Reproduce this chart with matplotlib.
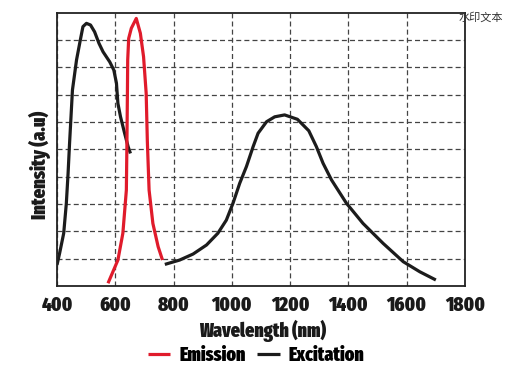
import matplotlib
matplotlib.use("Agg")
import matplotlib.pyplot as plt
from matplotlib import font_manager

# Data (wavelength nm, intensity a.u. on a 0-10 grid scale)
exc1_x = [400, 409, 423, 432, 438, 443, 453, 467, 480, 489, 501, 515, 529, 544, 558, 581, 595, 604, 609, 618, 632, 644, 652]
exc1_y = [0.77, 1.2, 1.93, 3.02, 4.12, 5.2, 7.17, 8.27, 9.0, 9.49, 9.61, 9.55, 9.3, 8.88, 8.57, 8.2, 7.9, 7.42, 6.68, 6.19, 5.59, 5.1, 4.85]

em_x = [575, 609, 626, 638, 640, 641.6, 642.6, 646, 655, 672, 686, 697, 706, 710, 716, 729, 747, 762]
em_y = [0.1, 0.95, 1.93, 3.51, 5.3, 7.05, 8.27, 9.06, 9.43, 9.79, 9.25, 8.39, 7.05, 5.3, 3.51, 2.29, 1.44, 0.95]

exc2_x = [770, 821, 867, 913, 952, 981, 1004, 1027, 1050, 1073, 1090, 1119, 1147, 1181, 1225, 1264, 1290, 1313, 1342, 1393, 1450, 1519, 1588, 1645, 1700]
exc2_y = [0.79, 0.95, 1.17, 1.5, 1.93, 2.41, 3.03, 3.76, 4.37, 5.1, 5.59, 6.01, 6.19, 6.26, 6.1, 5.68, 5.1, 4.49, 3.88, 3.03, 2.29, 1.56, 0.89, 0.52, 0.22]

xticks = [400, 600, 800, 1000, 1200, 1400, 1600, 1800]
yticks = [1, 2, 3, 4, 5, 6, 7, 8, 9]

names = {f.name for f in font_manager.fontManager.ttflist}
fam = "DejaVu Sans"
for cand in ["Fira Sans Extra Condensed", "Fira Sans Condensed", "Roboto Condensed"]:
    if cand in names:
        fam = cand
        break
W = 900

fig = plt.figure(figsize=(5.15, 3.72), dpi=100)
ax = fig.add_axes([57/515, 1-286/372, (465-57)/515, (286-12.7)/372])

red = "#e01b2b"
blk = "#1c1c1c"
kw = dict(lw=2.3, solid_capstyle="butt", solid_joinstyle="round")
ax.plot(exc1_x, exc1_y, color=blk, **kw)
ax.plot(em_x, em_y, color=red, label="Emission", **kw)
ax.plot(exc2_x, exc2_y, color=blk, label="Excitation", **kw)

ax.set_xlim(400, 1800)
ax.set_ylim(0, 10)
ax.set_xticks(xticks)
ax.set_yticks(yticks)
ax.set_yticklabels([])
ax.tick_params(axis="both", length=0, pad=7)
for lab in ax.get_xticklabels():
    lab.set_fontfamily(fam)
    lab.set_fontweight(W)
    lab.set_fontsize(14.5)
    lab.set_color("#1a1a1a")
ax.grid(True, ls=(0, (4, 2.5)), color="#444444", lw=0.9)
for s in ax.spines.values():
    s.set_color("#222222")
    s.set_linewidth(1.3)

ax.set_xlabel("Wavelength (nm)", fontfamily=fam, fontweight=W, fontsize=14, color="#1a1a1a", va="center")
ax.xaxis.set_label_coords(0.503, (286 - 331) / 273.3)
ax.set_ylabel("Intensity (a.u)", fontfamily=fam, fontweight=W, fontsize=14.5, color="#1a1a1a", va="center")
ax.yaxis.set_label_coords((40 - 57) / 408, (286 - 165) / 273.3)

leg = fig.legend(loc="center", bbox_to_anchor=(256/515, 1-355/372), ncol=2, frameon=False,
                 prop={"family": fam, "weight": W, "size": 14}, handlelength=1.15,
                 columnspacing=0.6, handletextpad=0.45)

fig.text(481/515, 1-17/372, "水印文本", fontsize=8, color="#333333", ha="center", va="center",
         family=["Noto Sans CJK SC", "DejaVu Sans"])

fig.savefig("out.png", dpi=100)
